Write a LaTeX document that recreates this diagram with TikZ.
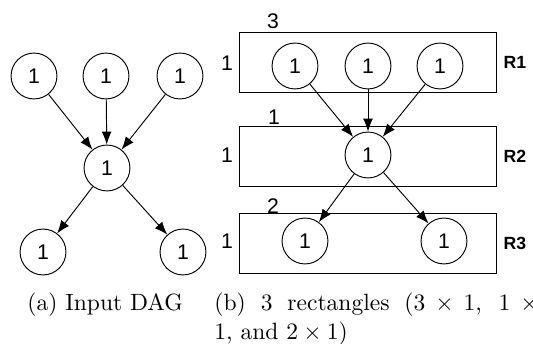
\documentclass[tikz,border=0pt]{standalone}
\usepackage{amsmath}
\usepackage{fontspec}
\setsansfont{Liberation Sans}
\usetikzlibrary{shapes, arrows.meta, positioning}
\tikzset{
	vertex/.style={draw, circle, inner sep=0pt, minimum size=19.5pt,
		font=\sffamily\fontsize{9}{10}\selectfont},
	layer/.style={draw, rectangle, inner sep=0pt,
		minimum width=109.6pt, minimum height=25.5pt},
	dimlabel/.style={inner sep=0pt, font=\sffamily\fontsize{9}{10}\selectfont},
	rowlabel/.style={inner sep=0pt, font=\sffamily\bfseries\fontsize{7.5}{8}\selectfont},
	dep/.style={-{Latex[length=5.5pt,width=4.2pt]}}
}

\begin{document}
\begin{tikzpicture}[x=0.425pt, y=-0.425pt]
	\useasboundingbox (0,0) rectangle (533,344);
	% (a) input DAG
	\node[vertex] (a1) at (34,76) {1};
	\node[vertex] (a2) at (106,76) {1};
	\node[vertex] (a3) at (180,76) {1};
	\node[vertex] (am) at (107,168) {1};
	\node[vertex] (ab1) at (43,252) {1};
	\node[vertex] (ab2) at (183,252) {1};
	% Arrows
	\draw[dep] (a1) edge (am)
	(a2) edge (am)
	(a3) edge (am)
	(am) edge (ab1)
	(am) edge (ab2);
	% (b) rectangles
	\node[layer] (r1) at (368,62) {};
	\node[layer] (r2) at (368,156.5) {};
	\node[layer] (r3) at (368,243) {};
	\node[rowlabel] (l1) at (515,62) {R1};
	\node[rowlabel] (l2) at (515,156) {R2};
	\node[rowlabel] (l3) at (515,243) {R3};
	\node[dimlabel] (w1) at (273,21) {3};
	\node[dimlabel] (w2) at (274,117) {1};
	\node[dimlabel] (w3) at (273,206) {2};
	\node[dimlabel] (h1) at (227,63) {1};
	\node[dimlabel] (h2) at (227,155) {1};
	\node[dimlabel] (h3) at (227,241) {1};
	\node[vertex] (b1) at (295,66) {1};
	\node[vertex] (b2) at (368,66) {1};
	\node[vertex] (b3) at (440,66) {1};
	\node[vertex] (bm) at (368,155) {1};
	\node[vertex] (bb1) at (305,241) {1};
	\node[vertex] (bb2) at (444,241) {1};
	% Arrows
	\draw[dep] (b1) edge (bm)
	(b2) edge (bm)
	(b3) edge (bm)
	(bm) edge (bb1)
	(bm) edge (bb2);
	% captions
	\node[inner sep=0pt, anchor=base west] (capa) at (27,311) {(a) Input DAG};
	\node[inner sep=0pt, anchor=base west, text width=142pt, align=justify] (capb) at (214,311)
	{(b) 3 rectangles ($3 \times 1$, $1 \times{}$\linebreak $1$, and $2 \times 1$)};
\end{tikzpicture}
\end{document}
